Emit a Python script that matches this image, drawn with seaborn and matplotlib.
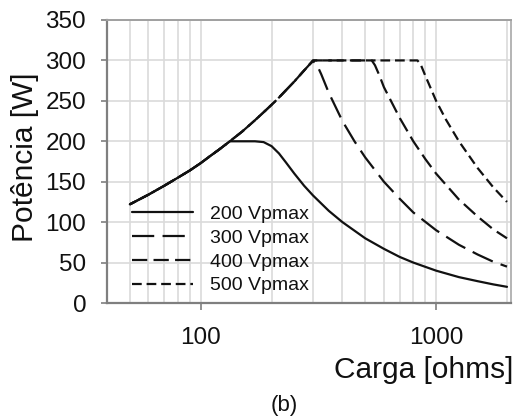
import pandas as pd
import matplotlib
matplotlib.use("Agg")
import matplotlib.pyplot as plt
import matplotlib.ticker as mticker
import seaborn as sns

# Rising part shared by all curves
carga_subida = [50, 60, 70, 80, 90, 100, 110, 120, 133]
pot_subida = [122, 134, 145, 155, 164, 173, 182, 190, 200]
carga_subida2 = [150, 170, 190, 210, 230, 250, 270, 290]
pot_subida2 = [212, 226, 239, 251, 263, 274, 285, 295]

# 200 Vpmax
carga_200 = [150, 170, 185, 200, 215, 230, 250, 275, 300, 350, 400, 500, 600,
             700, 800, 1000, 1250, 1500, 1750, 2000]
pot_200 = [200, 200, 199, 194, 185, 174, 160, 145, 133, 114, 100, 80, 67,
           57, 50, 40, 32, 27, 23, 20]

# 300 Vpmax
carga_300 = [300, 310, 325, 350, 400, 450, 500, 600, 700, 800, 1000, 1250,
             1500, 1750, 2000]
pot_300 = [299, 296, 283, 260, 225, 200, 180, 150, 129, 112, 90, 72,
           60, 51, 45]

# 400 Vpmax
carga_400 = [300, 400, 500, 533, 550, 575, 600, 700, 800, 900, 1000, 1250,
             1500, 1750, 2000]
pot_400 = [300, 300, 300, 300, 294, 281, 267, 229, 200, 178, 160, 128,
           107, 91, 80]

# 500 Vpmax
carga_500 = [300, 500, 700, 833, 860, 900, 1000, 1100, 1250, 1500, 1750, 2000]
pot_500 = [300, 300, 300, 300, 295, 281, 250, 227, 200, 167, 143, 125]

series = ["200 Vpmax", "300 Vpmax", "400 Vpmax", "500 Vpmax"]
y_ticks = [0, 50, 100, 150, 200, 250, 300, 350]

sns.set_style("white")
plt.rcParams["font.family"] = ["Liberation Sans", "DejaVu Sans"]
plt.rcParams["lines.scale_dashes"] = False

ink = "#111111"


def build_frame():
    """Build one long table with all four curves."""
    parts = [
        (series[0], carga_subida + carga_200, pot_subida + pot_200),
        (series[1], carga_subida + carga_subida2 + carga_300,
         pot_subida + pot_subida2 + pot_300),
        (series[2], carga_subida + carga_subida2 + carga_400,
         pot_subida + pot_subida2 + pot_400),
        (series[3], carga_subida + carga_subida2 + carga_500,
         pot_subida + pot_subida2 + pot_500),
    ]
    frames = []
    for name, xs, ys in parts:
        frames.append(pd.DataFrame({"carga": xs, "potencia": ys, "serie": name}))
    return pd.concat(frames, ignore_index=True)


df = build_frame()
# dash patterns; the offsets are staggered so the shared rising stretch looks solid
tracos = {
    series[0]: None,
    series[1]: (16, 6),
    series[2]: (11, 4.5),
    series[3]: (7, 3.5),
}
offsets = {series[0]: 0, series[1]: 0, series[2]: 6, series[3]: 3}


def estilo(name, offset):
    if tracos[name] is None:
        return "-"
    return (offset, tracos[name])


fig = plt.figure(figsize=(5.17, 4.16), dpi=100)
ax = fig.add_axes([107 / 517, 1 - 303 / 416, 404 / 517, 283 / 416])

for name in series:
    sub = df[df["serie"] == name]
    sns.lineplot(data=sub, x="carga", y="potencia", ax=ax, color=ink,
                 linewidth=1.6, linestyle=estilo(name, offsets[name]),
                 label=name, sort=False, estimator=None)

ax.set_xscale("log")
ax.set_xlim(40, 2080)
ax.set_ylim(0, 350)
ax.set_yticks(y_ticks)
ax.xaxis.set_major_locator(mticker.FixedLocator([100, 1000]))
ax.xaxis.set_major_formatter(mticker.FixedFormatter(["100", "1000"]))
ax.xaxis.set_minor_locator(mticker.LogLocator(base=10, subs=range(2, 10)))
ax.xaxis.set_minor_formatter(mticker.NullFormatter())

ax.grid(True, which="both", color="#dadada", linewidth=1.2)
ax.set_axisbelow(True)

ax.tick_params(axis="y", which="major", direction="out", length=4, width=1.2,
               color="#7f7f7f", labelsize=17.5, labelcolor=ink, pad=11, left=True)
ax.tick_params(axis="x", which="major", direction="out", length=5, width=1.2,
               color="#7f7f7f", labelsize=17.5, labelcolor=ink, pad=12, bottom=True)
ax.tick_params(axis="x", which="minor", length=0)

for side in ["left", "bottom"]:
    ax.spines[side].set_color("#7f7f7f")
    ax.spines[side].set_linewidth(1.6)
ax.spines["top"].set_color("#a0a0a0")
ax.spines["top"].set_linewidth(1.4)
ax.spines["right"].set_color("#b4b4b4")
ax.spines["right"].set_linewidth(1.4)

ax.set_xlabel("Carga [ohms]", fontsize=21.5, color=ink)
ax.xaxis.set_label_coords(1.005, -0.235)
ax.xaxis.label.set_ha("right")
ax.xaxis.label.set_va("center")
ax.set_ylabel("Potência [W]", fontsize=21.5, color=ink)
ax.yaxis.set_label_coords(-0.203, 0.516)
ax.yaxis.label.set_va("center")

leg = ax.legend(loc="upper left", bbox_to_anchor=(0.062, 0.345), frameon=False,
                fontsize=14, handlelength=3.15, handletextpad=0.85,
                labelspacing=0.32, borderpad=0, borderaxespad=0, labelcolor=ink)
# legend samples start with a full dash
for linha, name in zip(leg.get_lines(), series):
    linha.set_linestyle(estilo(name, 0))

fig.text(284 / 517, 1 - 405 / 416, "(b)", fontsize=16, color=ink,
         ha="center", va="center")

fig.savefig("out.png", dpi=100)
